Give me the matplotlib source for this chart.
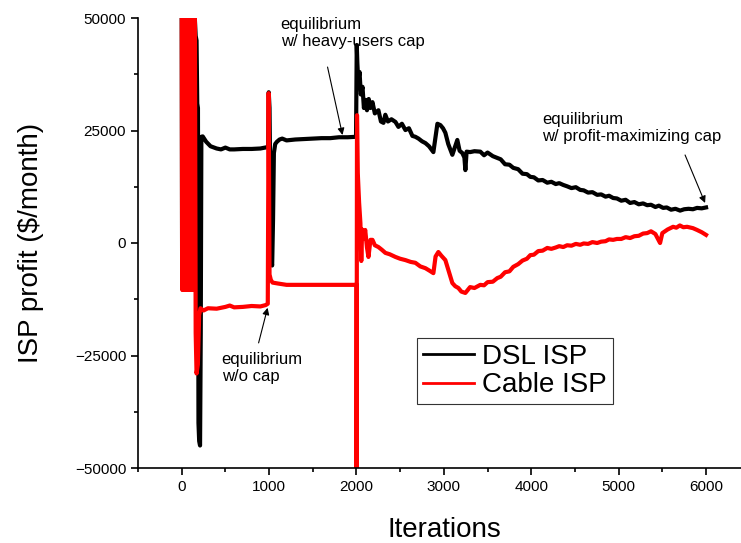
import matplotlib
matplotlib.use('Agg')
import matplotlib.pyplot as plt
from matplotlib.ticker import MultipleLocator

plt.rcParams['font.family'] = ['Liberation Sans', 'DejaVu Sans']

# DSL ISP profit
dsl_x = [0, 5, 10, 15, 20, 25, 30, 35, 40, 45, 50, 55, 60, 65, 70, 75, 80, 85, 90, 95,
         100, 105, 110, 115, 120, 125, 130, 135, 140, 145, 150,
         160, 170, 178, 186, 192, 200, 210, 218, 225, 240, 280, 330, 400, 450, 500, 550,
         600, 700, 800, 900, 980, 990, 996, 1005, 1015, 1025, 1035, 1045, 1055, 1070,
         1090, 1120, 1150, 1200, 1300, 1400, 1500, 1600, 1700, 1800, 1900, 1995,
         2003, 2010, 2020, 2035, 2050, 2069, 2085, 2103, 2120, 2140, 2160, 2183, 2210,
         2251, 2280, 2309, 2330, 2360, 2400, 2446, 2480, 2520, 2560, 2600, 2640, 2674,
         2710, 2750, 2789, 2830, 2880, 2900, 2926, 2960, 2990, 3017, 3050, 3097, 3130,
         3154, 3180, 3211, 3235, 3246, 3260, 3300, 3350, 3417, 3460, 3500, 3560, 3611,
         3650, 3700, 3750, 3794, 3850, 3900, 3950, 3989, 4030, 4080, 4130, 4183, 4230,
         4280, 4320, 4366, 4410, 4460, 4510, 4560, 4600, 4650, 4700, 4754, 4800, 4850,
         4890, 4937, 4980, 5030, 5080, 5131, 5180, 5230, 5280, 5326, 5370, 5420, 5460,
         5509, 5550, 5600, 5650, 5703, 5750, 5800, 5850, 5897, 5950, 6000]
dsl_y = [55000, -9000, 55000, -9000, 55000, -9000, 55000, -9000, 55000, -9000,
         55000, -9000, 55000, -9000, 55000, -9000, 55000, -9000, 55000, -9000,
         55000, -9000, 55000, -9000, 55000, -9000, 55000, -9000, 55000, -9000, 50000,
         46000, 45000, 31000, 30000, -40000, -44000, -45000, -20000, 23600, 23700,
         22500, 21500, 21000, 20800, 21200, 20800, 20800, 20900, 20900, 21000, 21300,
         21500, 33500, 30000, 10000, -4000, -5000, 5000, 20000, 22000, 22500, 23000,
         23200, 22800, 23000, 23100, 23200, 23300, 23300, 23500, 23500, 23600,
         44000, 40000, 36000, 38000, 33000, 34700, 30000, 31800, 29500, 32000, 30000,
         31300, 28800, 29500, 27000, 26700, 28500, 27000, 27500, 26900, 25800, 26500,
         25100, 25500, 23800, 23600, 23200, 22600, 22200, 21500, 20200, 23000, 26500,
         26200, 25500, 24500, 22000, 19600, 21500, 22900, 20500, 20000, 19000, 16200,
         20300, 20200, 20400, 20300, 19500, 20100, 19300, 18900,
         18600, 17500, 17400, 16700, 16400, 15400, 15300, 14700, 14600, 13900, 14000,
         13400, 13600, 13100, 13300, 12900, 12600, 12200, 12400, 11800, 11700, 11200,
         11300, 10700, 10800, 10300, 10500, 10000, 9900, 9400, 9600, 8900, 9100, 8600,
         8800, 8400, 8500, 8000, 8300, 7800, 7900, 7400, 7600, 7200, 7500, 7600, 7500,
         7800, 7700, 7900]

# Cable ISP profit
cable_x = [0, 5, 10, 15, 20, 25, 30, 35, 40, 45, 50, 55, 60, 65, 70, 75, 80, 85, 90, 95,
           100, 105, 110, 115, 120, 125, 130, 135, 140, 145, 150,
           160, 170, 185, 200, 215, 250, 300, 400, 500, 550, 600, 700, 800, 900, 960,
           985, 995, 1005, 1020, 1040, 1100, 1200, 1400, 1600, 1800, 1990, 2000,
           2001, 2006, 2015, 2030, 2045, 2055, 2065, 2080, 2100, 2120, 2137, 2160, 2183,
           2210, 2251, 2290, 2331, 2380, 2446, 2500, 2560, 2620, 2674, 2730, 2789, 2840,
           2880, 2905, 2937, 2970, 3017, 3060, 3097, 3130, 3166, 3200, 3246, 3300, 3350,
           3417, 3460, 3500, 3560, 3611, 3650, 3700, 3750, 3794, 3850, 3900, 3950, 3989,
           4030, 4080, 4130, 4183, 4230, 4280, 4320, 4366, 4410, 4460, 4510, 4560, 4600,
           4650, 4700, 4754, 4800, 4850, 4890, 4937, 4980, 5030, 5080, 5131, 5180, 5230,
           5280, 5326, 5370, 5420, 5474, 5500, 5560, 5623, 5660, 5700, 5740, 5783, 5850,
           5897, 5950, 6000]
cable_y = [60000, -10400, 60000, -10400, 60000, -10400, 60000, -10400, 60000, -10400,
           60000, -10400, 60000, -10400, 60000, -10400, 60000, -10400, 60000, -10400,
           60000, -10400, 60000, -10400, 60000, -10400, 60000, -10400, 60000, -10400, 60000,
           -20000, -29000, -27000, -16000, -14500, -15000, -14500, -14600, -14200, -13900,
           -14300, -14200, -14000, -14100, -13800, -13500, 33300, -7000, -8200, -8800,
           -9000, -9300, -9300, -9300, -9300, -9300, -9300,
           -52000, 28400, 15500, 9000, 4400, -4000, 3000, 1000, 2900, -1000, -3100, 700,
           700, -500, -900, -1500, -2200, -2500, -3100, -3500, -3800, -4200, -4400, -5200,
           -5600, -6200, -6700, -3000, -2000, -2800, -3800, -6500, -8900, -9600, -10000,
           -10800, -11100, -9800, -10000, -9300, -9400, -8700, -8600, -7800,
           -7500, -6500, -6300, -5300, -4700, -3900, -3500, -2700, -2600, -1800, -1700,
           -1100, -1300, -1000, -700, -900, -500, -600, -200, -400, -100, -200, 200, 0,
           300, 400, 800, 700, 900, 900, 1300, 1100, 1500, 1600, 2100, 2200, 2600, 2000,
           0, 2200, 3000, 3600, 3400, 3900, 3500, 3600, 3300, 2900, 2400, 1800]

x_ticks = [0, 1000, 2000, 3000, 4000, 5000, 6000]
y_ticks = [-50000, -25000, 0, 25000, 50000]

fig = plt.figure(figsize=(7.41, 5.43), dpi=100)
ax = fig.add_axes([138 / 741, 75 / 543, 603 / 741, 450 / 543])

ax.plot(dsl_x, dsl_y, color='black', lw=3, label='DSL ISP')
ax.plot(cable_x, cable_y, color='#ff0000', lw=3, label='Cable ISP')

ax.set_xlim(-500, 6400)
ax.set_ylim(-50000, 50000)
ax.set_xticks(x_ticks)
ax.set_yticks(y_ticks)
ax.xaxis.set_minor_locator(MultipleLocator(500))
ax.yaxis.set_minor_locator(MultipleLocator(12500))
ax.tick_params(which='major', direction='out', length=5, width=1.2, labelsize=11)
ax.tick_params(which='minor', direction='out', length=3, width=1.2)

ax.spines['top'].set_visible(False)
ax.spines['right'].set_visible(False)
ax.spines['left'].set_linewidth(1.2)
ax.spines['bottom'].set_linewidth(1.2)

ax.set_xlabel('Iterations', fontsize=20, labelpad=17)
ax.xaxis.label.set_x(0.5075)
ax.set_ylabel('ISP profit ($/month)', fontsize=20, labelpad=22)

# annotations
arrow = dict(arrowstyle='-|>', color='black', lw=0.8, mutation_scale=10, shrinkA=0, shrinkB=0)
ax.text(1131, 50200, 'equilibrium\nw/ heavy-users cap', fontsize=12, ha='left', va='top')
ax.annotate('', xy=(1840, 24000), xytext=(1669, 39100), arrowprops=arrow)
ax.text(457, -24200, 'equilibrium\nw/o cap', fontsize=12, ha='left', va='top')
ax.annotate('', xy=(983, -14400), xytext=(880, -22200), arrowprops=arrow)
ax.text(4126, 29100, 'equilibrium\nw/ profit-maximizing cap', fontsize=12, ha='left', va='top')
ax.annotate('', xy=(5989, 8900), xytext=(5760, 19560), arrowprops=arrow)

leg = ax.legend(loc='upper left', bbox_to_anchor=(0.4627, 0.2889), fontsize=20,
                fancybox=False, framealpha=1, edgecolor='#333333', handlelength=1.85,
                borderpad=0.2, labelspacing=0.1, handletextpad=0.3, borderaxespad=0)
leg.get_frame().set_linewidth(0.8)
for line in leg.get_lines():
    line.set_linewidth(2)

fig.savefig('out.png', dpi=100)
